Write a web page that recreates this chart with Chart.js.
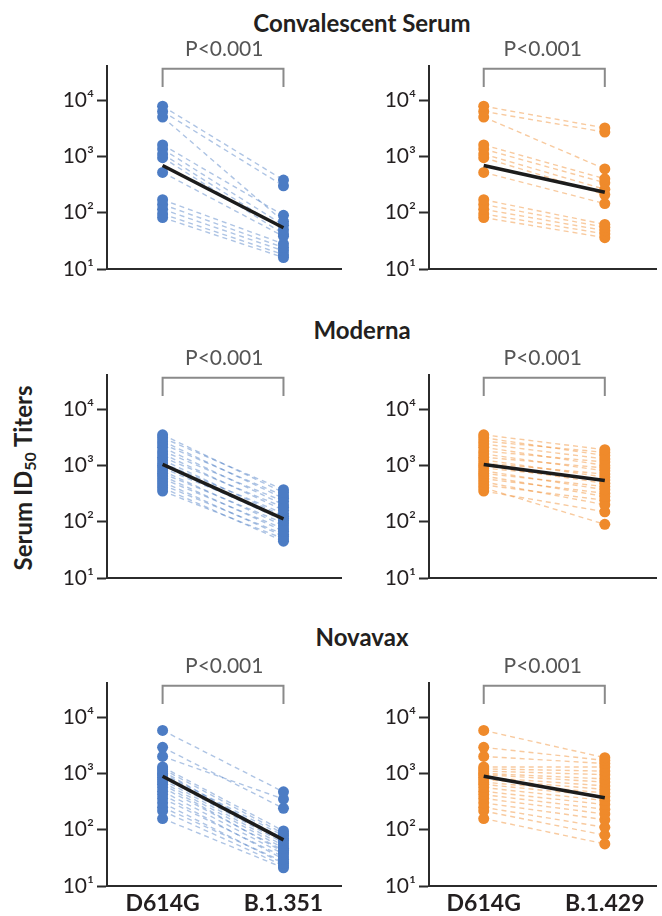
<!DOCTYPE html>
<html>
<head>
<meta charset="utf-8">
<script src="https://cdn.jsdelivr.net/npm/chart.js@4.4.1/dist/chart.umd.min.js"></script>
<style>
  html, body { margin: 0; padding: 0; background: #fff; width: 662px; height: 916px; overflow: hidden; }
  canvas.panel { position: absolute; }
  .rowtitle { position: absolute; left: 362px; transform: translateX(-50%); white-space: nowrap;
              font: bold 24px Lato, "Open Sans", sans-serif; color: #231f20; line-height: 28px; }
  #ylabel { position: absolute; left: 23px; top: 478px; transform: translate(-50%, -50%) rotate(-90deg);
            white-space: nowrap; font: bold 24px Lato, "Open Sans", sans-serif; color: #231f20; }
  #ylabel sub { font-size: 16px; vertical-align: -4px; }
</style>
</head>
<body>
<div class="rowtitle" style="top:9px">Convalescent Serum</div>
<div class="rowtitle" style="top:316px">Moderna</div>
<div class="rowtitle" style="top:623px">Novavax</div>
<div id="ylabel">Serum ID<sub>50</sub> Titers</div>

<canvas class="panel" id="c1" width="310" height="262" style="left:37px;top:37px"></canvas>
<canvas class="panel" id="c2" width="303" height="262" style="left:359px;top:37px"></canvas>
<canvas class="panel" id="c3" width="310" height="262" style="left:37px;top:346px"></canvas>
<canvas class="panel" id="c4" width="303" height="262" style="left:359px;top:346px"></canvas>
<canvas class="panel" id="c5" width="310" height="262" style="left:37px;top:654px"></canvas>
<canvas class="panel" id="c6" width="303" height="262" style="left:359px;top:654px"></canvas>

<script>
// ---- categories and tick labels ----
const categoriesB1351 = ['D614G', 'B.1.351'];
const categoriesB1429 = ['D614G', 'B.1.429'];
const tickValues = [10, 100, 1000, 10000];
const tickLabels = ['10\u00B9', '10\u00B2', '10\u00B3', '10\u2074'];
const pValueText = 'P<0.001';
const bracketY = [17000, 36000];

// ---- Convalescent serum ----
const convD614G = [7800, 6300, 5000, 1600, 1350, 1100, 950, 520, 170, 140, 115, 95, 82];
const convB1351 = [380, 300, 70, 90, 60, 50, 42, 38, 28, 24, 21, 18, 16];
const convB1429 = [3200, 2700, 600, 400, 340, 260, 210, 145, 62, 55, 48, 42, 36];
const convGmtB1351 = [690, 54];
const convGmtB1429 = [690, 230];

// ---- Moderna ----
const modD614G = [3500, 3100, 2700, 2400, 2100, 1800, 1600, 1400, 1250, 1100, 1000, 900, 800, 720, 650, 580, 510, 450, 400, 350];
const modB1351 = [330, 370, 260, 290, 200, 230, 160, 180, 125, 140, 105, 115, 85, 95, 68, 75, 55, 60, 45, 50];
const modB1429 = [1900, 1500, 1700, 1300, 1000, 1150, 800, 900, 620, 700, 480, 550, 370, 420, 280, 320, 200, 240, 90, 150];
const modGmtB1351 = [1040, 112];
const modGmtB1429 = [1040, 540];

// ---- Novavax ----
const novD614G = [5800, 2900, 2000, 1300, 1200, 1100, 1000, 950, 850, 780, 700, 640, 560, 480, 420, 360, 300, 250, 215, 158];
const novB1351 = [470, 240, 350, 95, 85, 64, 78, 70, 58, 52, 47, 40, 43, 37, 30, 33, 25, 27, 23, 21];
const novB1429 = [1900, 1700, 1500, 1300, 1100, 950, 800, 700, 600, 520, 450, 390, 330, 280, 230, 190, 150, 110, 80, 56];
const novGmtB1351 = [890, 66];
const novGmtB1429 = [890, 370];

// ---- styling ----
const FONT = 'Lato, "Open Sans", sans-serif';
const BLUE = '#4C7CC4', BLUE_LINE = 'rgba(76,124,196,0.45)';
const ORANGE = '#EF8A2B', ORANGE_LINE = 'rgba(239,138,43,0.45)';
const AXIS = '#2b2b2b';

function makePanel(id, cats, before, after, gmt, color, lineColor, showX, xMin, xMax) {
  const datasets = [];
  datasets.push({
    data: [{x: 0, y: gmt[0]}, {x: 1, y: gmt[1]}],
    borderColor: '#1c1c1c', borderWidth: 3.5, pointRadius: 0, order: 0, tension: 0
  });
  datasets.push({
    data: [{x: 0, y: bracketY[0]}, {x: 0, y: bracketY[1]}, {x: 1, y: bracketY[1]}, {x: 1, y: bracketY[0]}],
    borderColor: '#8a8a8a', borderWidth: 2, pointRadius: 0, order: 0, clip: false, tension: 0
  });
  for (let i = 0; i < before.length; i++) {
    datasets.push({
      data: [{x: 0, y: before[i]}, {x: 1, y: after[i]}],
      borderColor: lineColor, borderWidth: 1.4, borderDash: [5, 4],
      pointRadius: 5.5, pointBackgroundColor: color, pointBorderColor: color, pointBorderWidth: 0,
      order: 1, tension: 0
    });
  }
  new Chart(document.getElementById(id), {
    type: 'line',
    data: { datasets },
    options: {
      responsive: false, animation: false, devicePixelRatio: 1,
      layout: { padding: 0 },
      plugins: {
        legend: { display: false }, tooltip: { enabled: false },
        title: { display: true, text: pValueText, color: '#555', fullSize: false,
                 font: { family: FONT, size: 21, weight: 'normal', lineHeight: 1.2 },
                 padding: { top: 0, bottom: 4 } }
      },
      scales: {
        x: {
          type: 'linear', min: xMin, max: xMax,
          afterBuildTicks: s => { s.ticks = [{value: 0}, {value: 1}]; },
          afterFit: s => { s.height = 30; },
          grid: { display: false, drawTicks: false, tickLength: 0 },
          border: { display: true, width: 2, color: AXIS },
          ticks: { display: showX, padding: 4, color: '#231f20',
                   font: { family: FONT, size: 23, weight: 'bold' },
                   callback: v => cats[v] }
        },
        y: {
          type: 'logarithmic', min: 10, max: 40000,
          afterBuildTicks: s => { s.ticks = tickValues.map(v => ({value: v, major: true})); },
          afterFit: s => { s.width = 70; },
          grid: { display: true, drawOnChartArea: false, drawTicks: true, tickLength: 10, tickWidth: 2, tickColor: AXIS },
          border: { display: true, width: 2, color: AXIS },
          ticks: { padding: 3, color: '#231f20', font: { family: FONT, size: 21 },
                   callback: (v, i) => tickLabels[i] }
        }
      }
    }
  });
}

makePanel('c1', categoriesB1351, convD614G, convB1351, convGmtB1351, BLUE, BLUE_LINE, false, -0.46, 1.48);
makePanel('c2', categoriesB1429, convD614G, convB1429, convGmtB1429, ORANGE, ORANGE_LINE, false, -0.452, 1.427);
makePanel('c3', categoriesB1351, modD614G, modB1351, modGmtB1351, BLUE, BLUE_LINE, false, -0.46, 1.48);
makePanel('c4', categoriesB1429, modD614G, modB1429, modGmtB1429, ORANGE, ORANGE_LINE, false, -0.452, 1.427);
makePanel('c5', categoriesB1351, novD614G, novB1351, novGmtB1351, BLUE, BLUE_LINE, true, -0.46, 1.48);
makePanel('c6', categoriesB1429, novD614G, novB1429, novGmtB1429, ORANGE, ORANGE_LINE, true, -0.452, 1.427);
</script>
</body>
</html>
